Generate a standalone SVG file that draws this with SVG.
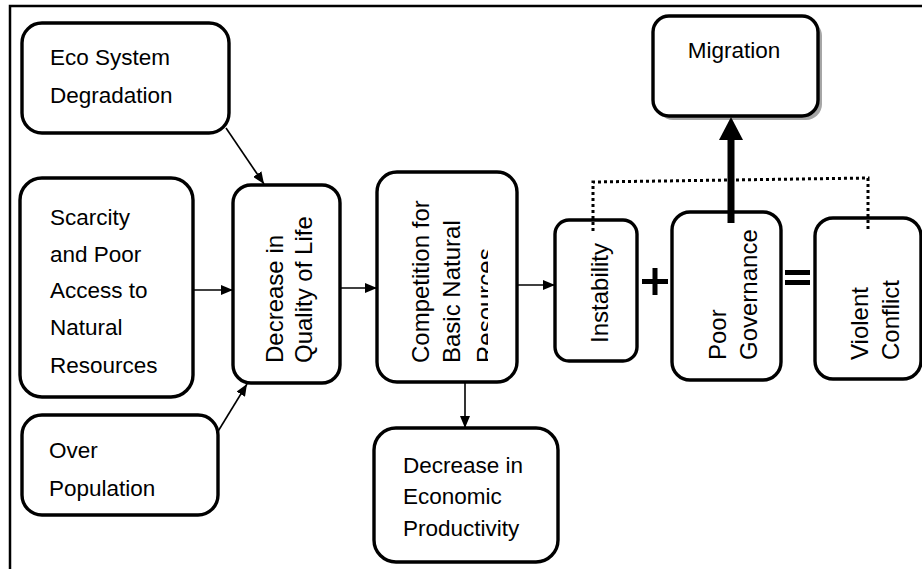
<svg xmlns="http://www.w3.org/2000/svg" width="922" height="569" viewBox="0 0 922 569">
<defs>
<style>
.box{fill:#fff;stroke:#000;stroke-width:3.4}
.t{font-family:"Liberation Sans",Arial,sans-serif;font-size:22.5px;fill:#000}
.r{font-family:"Liberation Sans",Arial,sans-serif;font-size:24px;fill:#000}
.c{stroke:#000;stroke-width:1.6;fill:none}
</style>
<marker id="ah" viewBox="0 0 12 10" refX="12" refY="5" markerWidth="12" markerHeight="10" markerUnits="userSpaceOnUse" orient="auto">
<path d="M0,0 L12,5 L0,10 Z" fill="#000"/>
</marker>
<clipPath id="compClip"><rect x="377" y="172" width="111" height="210"/></clipPath>
</defs>
<rect width="922" height="569" fill="#fff"/>
<rect x="10" y="6" width="940" height="600" fill="none" stroke="#000" stroke-width="2.5"/>

<g id="eco">
<rect class="box" x="22" y="23" width="207" height="110" rx="20"/>
<text class="t" x="50" y="65">Eco System</text>
<text class="t" x="50" y="103">Degradation</text>
</g>
<g id="scarcity">
<rect class="box" x="20" y="178" width="173" height="219" rx="22"/>
<text class="t" x="50" y="225">Scarcity</text>
<text class="t" x="50" y="262">and Poor</text>
<text class="t" x="50" y="298">Access to</text>
<text class="t" x="50" y="335">Natural</text>
<text class="t" x="50" y="373">Resources</text>
</g>
<g id="overpop">
<rect class="box" x="22" y="415" width="196" height="100" rx="20"/>
<text class="t" x="49" y="458">Over</text>
<text class="t" x="49" y="496">Population</text>
</g>
<g id="quality">
<rect class="box" x="233" y="185" width="107" height="198" rx="18"/>
<text class="r" transform="translate(283,363) rotate(-90)">Decrease in</text>
<text class="r" transform="translate(312,363) rotate(-90)">Quality of Life</text>
</g>
<g id="competition">
<rect class="box" x="377" y="172" width="140" height="210" rx="20"/>
<g clip-path="url(#compClip)">
<text class="r" transform="translate(429,363) rotate(-90)">Competition for</text>
<text class="r" transform="translate(460,363) rotate(-90)">Basic Natural</text>
<text class="r" transform="translate(494,363) rotate(-90)">Resources</text>
</g>
</g>
<g id="economic">
<rect class="box" x="374" y="428" width="184" height="134" rx="22"/>
<text class="t" x="403" y="473">Decrease in</text>
<text class="t" x="403" y="504">Economic</text>
<text class="t" x="403" y="536">Productivity</text>
</g>
<g id="instability">
<rect class="box" x="555" y="220" width="82" height="141" rx="14"/>
<text class="r" transform="translate(608,343) rotate(-90)">Instability</text>
</g>
<g id="governance">
<rect class="box" x="672" y="212" width="109" height="168" rx="18"/>
<text class="r" transform="translate(726,360) rotate(-90)">Poor</text>
<text class="r" transform="translate(757,360) rotate(-90)">Governance</text>
</g>
<g id="violent">
<rect class="box" x="815" y="218" width="106" height="161" rx="18"/>
<text class="r" transform="translate(868,360) rotate(-90)">Violent</text>
<text class="r" transform="translate(899,360) rotate(-90)">Conflict</text>
</g>
<g id="migration">
<rect x="657" y="20" width="165" height="100" rx="16" fill="#a6a6a6"/>
<rect class="box" x="653" y="16" width="165" height="100" rx="16"/>
<text class="t" x="734" y="58" text-anchor="middle" font-size="24">Migration</text>
</g>
<g id="operators">
<rect x="642" y="279" width="26" height="5" fill="#000"/>
<rect x="652.5" y="268" width="5" height="27" fill="#000"/>
<rect x="785" y="270" width="25" height="5" fill="#000"/>
<rect x="785" y="280" width="25" height="5" fill="#000"/>
</g>
<g id="connectors">
<line class="c" x1="226" y1="128" x2="264" y2="184" marker-end="url(#ah)"/>
<line class="c" x1="193" y1="290" x2="233" y2="290" marker-end="url(#ah)"/>
<line class="c" x1="217" y1="433" x2="247" y2="384" marker-end="url(#ah)"/>
<line class="c" x1="340" y1="288" x2="377" y2="288" marker-end="url(#ah)"/>
<line class="c" x1="517" y1="285" x2="555" y2="285" marker-end="url(#ah)"/>
<line class="c" x1="465" y1="382" x2="465" y2="428" marker-end="url(#ah)"/>
<path d="M593,231 L593,182 L868,178 L868,232" fill="none" stroke="#000" stroke-width="3" stroke-dasharray="3 3"/>
<line x1="731" y1="223" x2="731" y2="138" stroke="#000" stroke-width="7"/>
<polygon points="719,140 743,140 731,117" fill="#000"/>
</g>
</svg>
